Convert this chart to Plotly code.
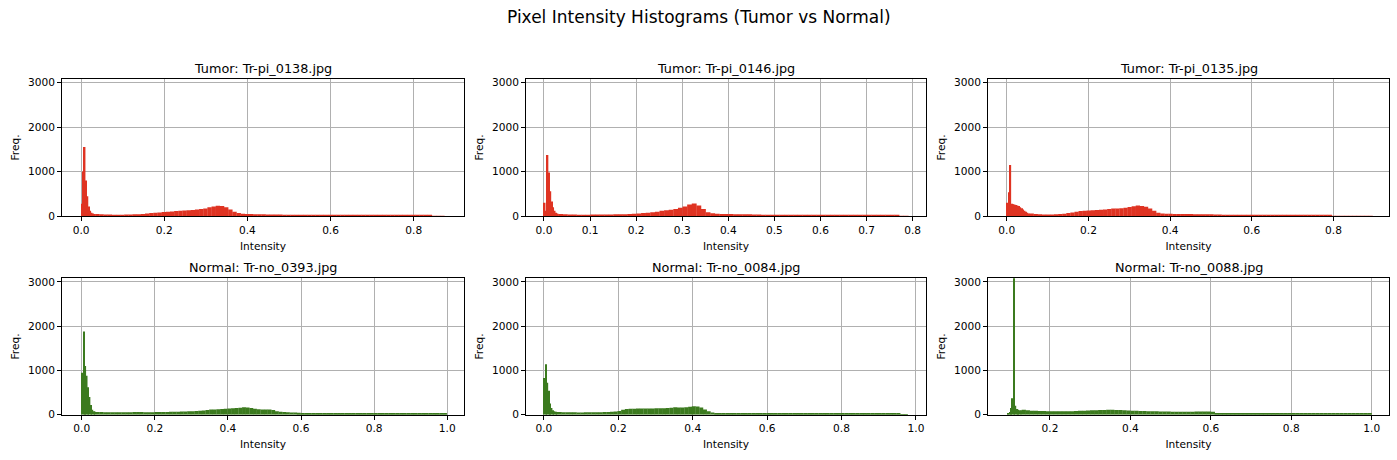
import numpy as np
import plotly.graph_objects as go

# panel titles / class of each image
titles = ["Tumor: Tr-pi_0138.jpg", "Tumor: Tr-pi_0146.jpg", "Tumor: Tr-pi_0135.jpg",
          "Normal: Tr-no_0393.jpg", "Normal: Tr-no_0084.jpg", "Normal: Tr-no_0088.jpg"]

# first bin edge of each image and width of the fine (256-bin) bins used near the dark spike
lows = [0.0, 0.0, 0.0, 0.0, 0.0, 0.095]
fine_widths = [0.0034, 0.0031, 0.0035, 0.0039, 0.0038, 0.0035]

# counts in the fine bins near the spike
spike_0138 = [280, 1000, 1550, 800, 450, 220, 120, 80, 60, 50]
spike_0146 = [300, 120, 1370, 980, 560, 330, 200, 120, 80, 60]
spike_0135 = [300, 540, 1150, 280, 270, 260, 250, 240, 230, 200, 180, 150, 120, 100, 80, 60]
spike_0393 = [950, 1880, 1100, 880, 620, 400, 220, 110, 80, 65]
spike_0084 = [830, 1140, 720, 540, 250, 150, 100, 75, 65, 60]
spike_0088 = [20, 60, 150, 370, 3080, 200, 130, 110, 100, 100]

# counts for the rest of the range, read every 0.01 of intensity
body_0138 = [50, 45, 40, 38, 35, 35, 35, 38, 40, 42, 45, 50, 60, 70, 80, 85, 95,
             100, 105, 115, 125, 130, 135, 140, 150, 160, 175, 200, 215, 235, 230, 200,
             150, 100, 70, 55, 50, 48, 45, 45, 42, 40, 40, 38, 36, 35, 34, 32, 30, 30, 28,
             27, 26,
             26, 25, 25, 24, 24, 24, 23, 23, 23, 22, 22, 22, 21, 21, 21, 21, 20, 20, 20, 20,
             19, 19, 19, 18, 18, 18, 18, 17,
             10, 5, 2]
body_0146 = [50, 42, 38,
             36, 35, 35, 35, 36, 37, 38, 39, 40,
             42, 44, 46, 50, 55,
             60, 70, 80, 90, 100, 125, 135, 145, 160, 190, 215, 260, 285, 240, 160, 90, 65, 55,
             52, 50, 48, 46, 45, 43, 42, 40, 38,
             28, 28, 27, 27, 26, 26, 26, 25, 25, 25, 24, 24, 24, 24, 23, 23, 23, 22, 22, 22,
             21, 21, 21, 21, 20, 20, 20, 19, 19, 18,
             6, 3]
body_0135 = [60, 50,
             42, 40, 40, 40, 42,
             48, 55, 70, 85,
             100, 115, 125, 130, 135, 140, 145, 150, 160, 170, 175, 180, 190, 205, 225, 240,
             230, 210, 170, 120, 80, 60,
             55, 55, 52, 50, 50, 48, 48, 46, 45, 45, 44, 42, 40, 38, 35,
             28, 28, 27, 27, 26, 26, 26, 25, 25, 25, 24, 24, 24, 23, 23, 23, 22, 22, 22, 21,
             21, 21, 20, 20, 19, 18,
             3, 3, 2, 2, 2, 2, 1, 1, 1, 1]
body_0393 = [60,
             58, 57, 56, 55, 55, 56, 56, 57, 57, 58, 58, 58, 57, 56, 56,
             58, 60, 60, 62, 64, 66, 68, 70, 72, 75,
             78, 82, 88, 95, 105,
             115, 120, 125, 130, 135, 140,
             145, 150, 155, 170, 160, 150,
             135, 125, 120, 120, 115, 105,
             75, 65, 60, 55, 50, 48, 45, 40,
             32, 26, 22,
             20, 20, 19, 19, 19, 18, 18, 18, 18, 17, 17, 17, 17, 17, 17, 16, 16, 16, 16, 16,
             16, 15, 15, 15, 15, 15, 15, 15, 16, 16, 17, 17, 18, 18, 19, 14]
body_0084 = [60,
             55, 54, 53, 53, 52, 52, 53, 53, 54, 55, 56, 58, 60, 64, 70,
             85, 110,
             130, 135, 135, 138, 140, 140, 140, 142, 145, 145, 148, 150, 155,
             170, 165,
             165, 170, 180, 190, 185,
             160, 120, 80, 50, 34,
             26, 26, 26, 26, 25, 25, 25, 25, 25, 24, 24, 24, 24, 24, 24, 23, 23, 23, 23, 23,
             23, 23, 22, 22, 22, 22, 22, 22, 22, 21, 21, 21, 21, 21, 21, 21, 21, 20, 20, 20,
             20, 20, 20, 20, 20, 20, 20, 20, 20,
             3, 1]
body_0088 = [110, 100,
             90, 88, 85, 82, 80, 78, 76, 75, 75, 76,
             80, 85, 88, 90, 95,
             100, 102, 105, 108, 110, 110, 108, 105, 100,
             95, 90, 88, 85, 82, 80,
             78, 76, 74, 72, 70, 68, 66, 65, 65, 66,
             68, 70, 72, 72, 70, 65,
             40, 30, 25,
             22, 22, 21, 21, 21, 21, 20, 20, 20, 20, 20, 20, 19, 19, 19, 19, 19, 19, 19, 19,
             20, 20, 20, 20, 21, 21, 21, 21, 22, 22, 23, 24, 26,
             30, 34, 32]

spikes = [spike_0138, spike_0146, spike_0135, spike_0393, spike_0084, spike_0088]
bodies = [body_0138, body_0146, body_0135, body_0393, body_0084, body_0088]

# x tick values per panel
xticks = [[0, 0.2, 0.4, 0.6, 0.8],
          [0, 0.1, 0.2, 0.3, 0.4, 0.5, 0.6, 0.7, 0.8],
          [0, 0.2, 0.4, 0.6, 0.8],
          [0, 0.2, 0.4, 0.6, 0.8, 1.0],
          [0, 0.2, 0.4, 0.6, 0.8, 1.0],
          [0.2, 0.4, 0.6, 0.8, 1.0]]
xranges = [[-0.046, 0.921], [-0.039, 0.829], [-0.046, 0.936],
           [-0.054, 1.046], [-0.048, 1.027], [0.046, 1.043]]
yticks = [0, 1000, 2000, 3000]

RED = "#DF3322"
GREEN = "#3B7A1E"
W, H = 1397, 460
xdom = [[62 / W, 464 / W], [526 / W, 926 / W], [988 / W, 1389 / W]]
ydom = [[1 - 218 / H, 1 - 78 / H], [1 - 420 / H, 1 - 281 / H]]
FONT = "DejaVu Sans"

fig = go.Figure()
annotations = []

for i in range(6):
    r, c = divmod(i, 3)
    n = i + 1
    fw = fine_widths[i]
    sp = np.array(spikes[i], dtype=float)
    bd = np.array(bodies[i], dtype=float)
    xs = lows[i] + fw * (np.arange(len(sp)) + 0.5)
    start = lows[i] + fw * len(sp)
    xb = start + 0.01 * (np.arange(len(bd)) + 0.5)
    x = np.concatenate([xs, xb])
    # slight overlap so the bars read as one filled histogram
    w = np.concatenate([np.full(len(sp), fw * 1.1), np.full(len(bd), 0.0106)])
    y = np.concatenate([sp, bd])

    xa = "x" if n == 1 else f"x{n}"
    ya = "y" if n == 1 else f"y{n}"
    fig.add_trace(go.Bar(
        x=x, y=y, width=w,
        marker=dict(color=RED if r == 0 else GREEN, line=dict(width=0)),
        xaxis=xa, yaxis=ya, showlegend=False
    ))

    axis_common = dict(
        showline=True, mirror=True, linecolor="black", linewidth=1,
        ticks="outside", ticklen=4, tickcolor="black", tickwidth=1,
        showgrid=True, gridcolor="#b0b0b0", gridwidth=0.8, zeroline=False,
        tickfont=dict(family=FONT, size=10.6, color="black"),
    )
    fig.layout[f"xaxis{'' if n == 1 else n}"] = dict(
        axis_common, domain=xdom[c], anchor=ya, range=xranges[i],
        tickvals=xticks[i], tickformat=".1f",
        title=dict(text="Intensity", font=dict(family=FONT, size=10.6, color="black"), standoff=7),
    )
    fig.layout[f"yaxis{'' if n == 1 else n}"] = dict(
        axis_common, domain=ydom[r], anchor=xa, range=[0, 3085],
        tickvals=yticks, tickformat="d",
        title=dict(text="Freq.", font=dict(family=FONT, size=10.6, color="black"), standoff=6),
    )
    annotations.append(dict(
        text=titles[i], x=(xdom[c][0] + xdom[c][1]) / 2, y=ydom[r][1],
        xref="paper", yref="paper", xanchor="center", yanchor="bottom", yshift=1,
        showarrow=False, font=dict(family=FONT, size=12.8, color="black"),
    ))

annotations.append(dict(
    text="Pixel Intensity Histograms (Tumor vs Normal)", x=0.5, y=1 - 15 / H,
    xref="paper", yref="paper", xanchor="center", yanchor="middle",
    showarrow=False, font=dict(family=FONT, size=17, color="black"),
))

fig.update_layout(
    width=W, height=H,
    margin=dict(l=0, r=0, t=0, b=0),
    paper_bgcolor="white", plot_bgcolor="white",
    barmode="overlay",
    annotations=annotations,
)

# drop the page's default body margin so the figure sits at the window origin
fig.write_html("out.html", config={"displayModeBar": False},
               post_script="document.body.style.margin='0';")
